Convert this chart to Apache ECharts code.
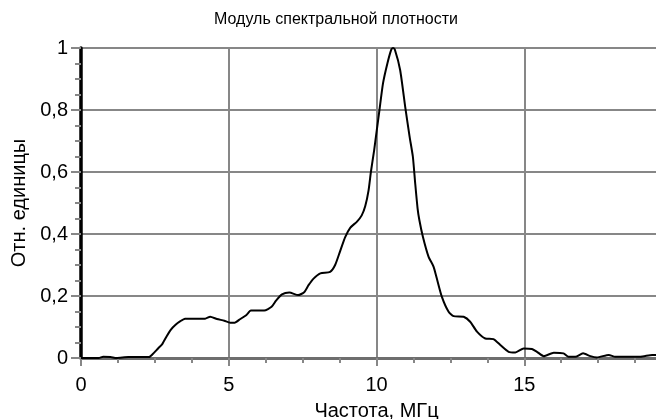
<!DOCTYPE html>
<html>
<head>
<meta charset="utf-8">
<script src="https://cdn.jsdelivr.net/npm/echarts@6/dist/echarts.min.js"></script>
<style>
  html, body { margin: 0; padding: 0; background: #fff; }
  #chart { width: 656px; height: 419px; }
</style>
</head>
<body>
<div id="chart"></div>
<script>
// частота, МГц
var freq = [
  0, 0.6, 0.75, 1.0, 1.2, 1.6, 2.3, 2.42, 2.6, 2.75, 2.9, 3.05, 3.2, 3.35, 3.52,
  3.8, 4.2, 4.37, 4.6, 4.85, 5.05, 5.2, 5.38, 5.6, 5.75, 6.2, 6.45, 6.6, 6.8,
  7.05, 7.35, 7.55, 7.7, 7.87, 8.1, 8.43, 8.6, 8.77, 8.94, 9.11, 9.34, 9.5,
  9.62, 9.73, 9.81, 9.92, 10.01, 10.1, 10.22, 10.37, 10.5, 10.56, 10.62, 10.8,
  10.97, 11.12, 11.23, 11.31, 11.39, 11.45, 11.57, 11.76, 11.93, 12.04,
  12.21, 12.44, 12.61, 12.95, 13.17, 13.4, 13.68, 13.96, 14.19, 14.47, 14.7,
  14.98, 15.26, 15.43, 15.66, 16.0, 16.33, 16.5, 16.73, 16.99, 17.24, 17.46,
  17.86, 18.08, 18.59, 18.93, 19.33, 19.6
]
// модуль спектральной плотности, отн. ед.
var amp = [
  0, 0, 0.004, 0.003, 0, 0.003, 0.003, 0.012, 0.03, 0.045, 0.07, 0.092, 0.107,
  0.118, 0.127, 0.127, 0.127, 0.133, 0.126, 0.12, 0.114, 0.114, 0.125, 0.139,
  0.153, 0.153, 0.165, 0.185, 0.205, 0.211, 0.203, 0.212, 0.235, 0.256, 0.273,
  0.278, 0.3, 0.345, 0.39, 0.42, 0.44, 0.46, 0.49, 0.54, 0.6, 0.67, 0.735, 0.8,
  0.886, 0.951, 0.995, 1.0, 0.995, 0.929, 0.811, 0.714, 0.65, 0.563, 0.483,
  0.445, 0.391, 0.327, 0.295, 0.257, 0.198, 0.149, 0.135, 0.133, 0.117, 0.085,
  0.063, 0.061, 0.042, 0.02, 0.018, 0.031, 0.029, 0.02, 0.006, 0.017, 0.015,
  0.004, 0.004, 0.015, 0.006, 0.002, 0.01, 0.004, 0.004, 0.004, 0.01, 0.01
]
var xTicks = [0, 5, 10, 15]

var fontFam = 'Arial, "Liberation Sans", sans-serif'
var gridColor = '#878787'

var points = freq.map(function (f, i) { return [f, amp[i]] })

var chart = echarts.init(document.getElementById('chart'))
chart.setOption({
  animation: false,
  title: {
    text: 'Модуль спектральной плотности',
    left: 331,
    textAlign: 'center',
    top: 7,
    textStyle: { fontFamily: fontFam, fontSize: 16, fontWeight: 'normal', color: '#000' }
  },
  grid: {
    left: 81,
    top: 48,
    height: 310,
    width: 591, // шкала до 20, справа обрезана краем картинки
    outerBoundsMode: 'none'
  },
  xAxis: {
    type: 'value',
    min: 0,
    max: 20,
    interval: 5,
    name: 'Частота, МГц',
    nameLocation: 'middle',
    nameGap: 43,
    nameTextStyle: { fontFamily: fontFam, fontSize: 20, color: '#000' },
    axisLine: { show: true, onZero: false, lineStyle: { color: '#6e6e6e', width: 3 } },
    axisTick: { show: true, length: 8, lineStyle: { color: gridColor, width: 2 } },
    minorTick: { show: true, splitNumber: 4, length: 5, lineStyle: { color: gridColor, width: 2 } },
    axisLabel: {
      margin: 17,
      fontFamily: fontFam,
      fontSize: 20,
      color: '#000',
      formatter: function (v) {
        return xTicks.indexOf(v) >= 0 ? String(v) : ''
      }
    },
    splitLine: { show: true, lineStyle: { color: gridColor, width: 2 } }
  },
  yAxis: {
    type: 'value',
    min: 0,
    max: 1,
    interval: 0.2,
    name: 'Отн. единицы',
    nameLocation: 'middle',
    nameGap: 50,
    nameTextStyle: { fontFamily: fontFam, fontSize: 20, color: '#000' },
    axisLine: { show: true, lineStyle: { color: '#000', width: 3.5 } },
    axisTick: { show: true, length: 10, lineStyle: { color: gridColor, width: 2 } },
    minorTick: { show: true, splitNumber: 4, length: 6, lineStyle: { color: gridColor, width: 2 } },
    axisLabel: {
      margin: 13,
      fontFamily: fontFam,
      fontSize: 20,
      color: '#000',
      formatter: function (v) {
        return String(+v.toFixed(2)).replace('.', ',')
      }
    },
    splitLine: { show: true, lineStyle: { color: gridColor, width: 2 } }
  },
  series: [
    {
      type: 'line',
      data: points,
      showSymbol: false,
      smooth: 0.2,
      lineStyle: { color: '#000', width: 2 },
      clip: true
    }
  ]
})
</script>
</body>
</html>
